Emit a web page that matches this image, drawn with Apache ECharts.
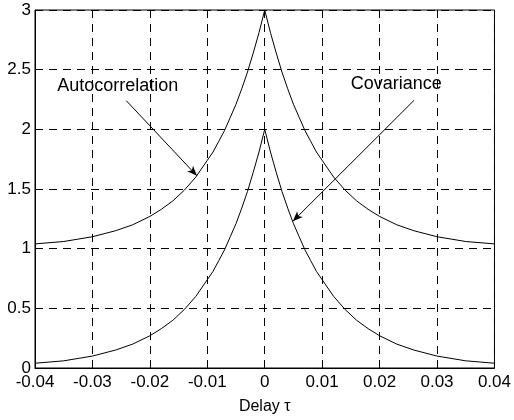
<!DOCTYPE html>
<html>
<head>
<meta charset="utf-8">
<script src="https://cdn.jsdelivr.net/npm/echarts@6/dist/echarts.min.js"></script>
<style>
  html, body { margin: 0; padding: 0; background: #fff; }
  #chart { width: 514px; height: 420px; }
</style>
</head>
<body>
<div id="chart"></div>
<script>
// Delay values (s)
const tau = [
  -0.040, -0.035, -0.030, -0.026, -0.023, -0.020, -0.018, -0.016, -0.014, -0.012,
  -0.010, -0.009, -0.008, -0.007, -0.006, -0.005, -0.004, -0.003, -0.002, -0.001,
  0,
  0.001, 0.002, 0.003, 0.004, 0.005, 0.006, 0.007, 0.008, 0.009, 0.010,
  0.012, 0.014, 0.016, 0.018, 0.020, 0.023, 0.026, 0.030, 0.035, 0.040
];

// Autocorrelation R(tau)
const autocorrelation = [
  1.04, 1.06, 1.10, 1.15, 1.20, 1.27, 1.33, 1.40, 1.49, 1.60,
  1.74, 1.81, 1.90, 1.99, 2.10, 2.21, 2.34, 2.48, 2.64, 2.81,
  3.00,
  2.81, 2.64, 2.48, 2.34, 2.21, 2.10, 1.99, 1.90, 1.81, 1.74,
  1.60, 1.49, 1.40, 1.33, 1.27, 1.20, 1.15, 1.10, 1.06, 1.04
];

// Covariance C(tau)
const covariance = [
  0.04, 0.06, 0.10, 0.15, 0.20, 0.27, 0.33, 0.40, 0.49, 0.60,
  0.74, 0.81, 0.90, 0.99, 1.10, 1.21, 1.34, 1.48, 1.64, 1.81,
  2.00,
  1.81, 1.64, 1.48, 1.34, 1.21, 1.10, 0.99, 0.90, 0.81, 0.74,
  0.60, 0.49, 0.40, 0.33, 0.27, 0.20, 0.15, 0.10, 0.06, 0.04
];

// Axis ticks
const xTicks = [-0.04, -0.03, -0.02, -0.01, 0, 0.01, 0.02, 0.03, 0.04];
const yTicks = [0, 0.5, 1, 1.5, 2, 2.5, 3];

// Callout labels and their arrows (data coordinates)
const calloutText = ['Autocorrelation', 'Covariance'];
const calloutAt = [[-0.0256, 2.36], [0.0229, 2.38]];
const arrowFrom = [[-0.0241, 2.24], [0.0260, 2.243]];
const arrowTo = [[-0.0118, 1.61], [0.0049, 1.23]];

const FONT = '"Liberation Sans", Arial, Helvetica, sans-serif';

function pairs(xs, ys) {
  return xs.map((x, i) => [x, ys[i]]);
}

const chart = echarts.init(document.getElementById('chart'), null, { renderer: 'canvas' });

const gridLine = { show: true, lineStyle: { color: '#000', width: 1, type: [8, 6] } };

chart.setOption({
  backgroundColor: '#fff',
  animation: false,
  grid: {
    left: 35, right: 15, top: 10, bottom: 43,
    show: true, borderColor: '#000', borderWidth: 1, backgroundColor: 'transparent'
  },
  xAxis: {
    type: 'value',
    min: xTicks[0],
    max: xTicks[xTicks.length - 1],
    interval: 0.01,
    name: 'Delay τ',
    nameLocation: 'middle',
    nameGap: 31,
    nameTextStyle: { color: '#000', fontSize: 16, fontFamily: FONT },
    axisLine: { show: true, onZero: false, lineStyle: { color: '#000', width: 1 } },
    axisTick: { show: false },
    axisLabel: {
      color: '#000', fontSize: 17, fontFamily: FONT, margin: 6,
      formatter: v => String(parseFloat(v.toFixed(2)))
    },
    splitLine: gridLine
  },
  yAxis: {
    type: 'value',
    min: yTicks[0],
    max: yTicks[yTicks.length - 1],
    interval: 0.5,
    axisLine: { show: true, onZero: false, lineStyle: { color: '#000', width: 1 } },
    axisTick: { show: false },
    axisLabel: {
      color: '#000', fontSize: 17, fontFamily: FONT, margin: 4,
      formatter: v => String(parseFloat(v.toFixed(1)))
    },
    splitLine: gridLine
  },
  series: [
    {
      name: 'Autocorrelation',
      type: 'line',
      data: pairs(tau, autocorrelation),
      showSymbol: false,
      lineStyle: { color: '#000', width: 1 },
      z: 5
    },
    {
      name: 'Covariance',
      type: 'line',
      data: pairs(tau, covariance),
      showSymbol: false,
      lineStyle: { color: '#000', width: 1 },
      z: 5,
      markLine: {
        silent: true,
        animation: false,
        lineStyle: { color: '#000', width: 1, type: 'solid' },
        label: { show: false },
        data: arrowFrom.map((p, i) => [
          { coord: p, symbol: 'none' },
          { coord: arrowTo[i], symbol: 'arrow', symbolSize: [6, 10] }
        ])
      },
      markPoint: {
        silent: true,
        animation: false,
        symbol: 'circle',
        symbolSize: 0,
        label: {
          show: true,
          position: 'inside',
          color: '#000',
          fontSize: 18,
          fontFamily: FONT
        },
        data: calloutAt.map((p, i) => ({
          coord: p,
          value: calloutText[i],
          label: { formatter: calloutText[i] }
        }))
      }
    }
  ]
});
</script>
</body>
</html>
